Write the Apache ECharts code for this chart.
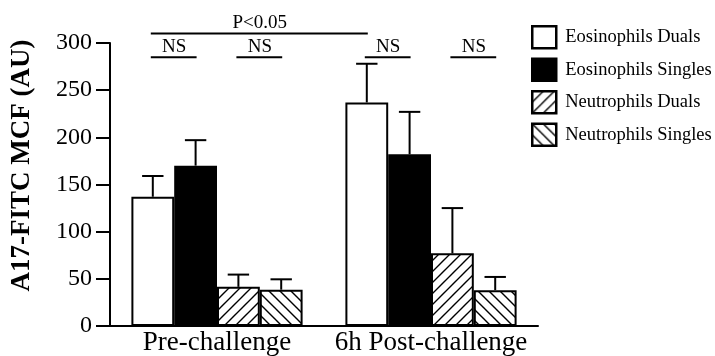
<!DOCTYPE html>
<html><head><meta charset="utf-8">
<script src="https://cdn.jsdelivr.net/npm/echarts@6/dist/echarts.min.js"></script>
<style>html,body{margin:0;padding:0;background:#fff}#c{width:715px;height:356px}</style>
</head><body><div id="c"></div>
<script>
const categories = ['Pre-challenge', '6h Post-challenge'];
const seriesNames = ['Eosinophils Duals', 'Eosinophils Singles', 'Neutrophils Duals', 'Neutrophils Singles'];
const eosDuals = [137, 237];
const eosSingles = [170, 182];
const neuDuals = [41.5, 77];
const neuSingles = [38.5, 38];
const eosDualsErr = [22, 41];
const eosSinglesErr = [27, 45];
const neuDualsErr = [13, 48];
const neuSinglesErr = [11, 14];
const yTicks = [0, 50, 100, 150, 200, 250, 300];
// brackets: [catFrom, barFrom, catTo, barTo, yValue, label]
const brackets = [
  [0, 0, 1, 0, 310, 'P<0.05'],
  [0, 0, 0, 1, 285, 'NS'],
  [0, 2, 0, 3, 285, 'NS'],
  [1, 0, 1, 1, 285, 'NS'],
  [1, 2, 1, 3, 285, 'NS']
];

const values = [eosDuals, eosSingles, neuDuals, neuSingles];
const errs = [eosDualsErr, eosSinglesErr, neuDualsErr, neuSinglesErr];
const FONT = 'Liberation Serif';
const CAT_GAP = 0.2;

function hatch(forward) {
  const s = 11;
  const c = document.createElement('canvas');
  c.width = s; c.height = s;
  const g = c.getContext('2d');
  g.fillStyle = '#fff'; g.fillRect(0, 0, s, s);
  g.strokeStyle = '#000'; g.lineWidth = 1.4;
  g.beginPath();
  if (forward) {
    g.moveTo(-1, s + 1); g.lineTo(s + 1, -1);
    g.moveTo(-1, 1); g.lineTo(1, -1);
    g.moveTo(s - 1, s + 1); g.lineTo(s + 1, s - 1);
  } else {
    g.moveTo(-1, -1); g.lineTo(s + 1, s + 1);
    g.moveTo(s - 1, -1); g.lineTo(s + 1, 1);
    g.moveTo(-1, s - 1); g.lineTo(1, s + 1);
  }
  g.stroke();
  return c;
}
const fills = ['#fff', '#000', { image: hatch(true), repeat: 'repeat' }, { image: hatch(false), repeat: 'repeat' }];

function barX(api, cat, idx) {
  const center = api.coord([cat, 0])[0];
  const band = api.size([1, 0])[0];
  const bw = band * (1 - CAT_GAP) / 4;
  return { x: center + (idx - 1.5) * bw, bw: bw };
}

const barSeries = seriesNames.map((n, i) => ({
  name: n, type: 'bar', data: values[i],
  barGap: '0%', barCategoryGap: (CAT_GAP * 100) + '%',
  itemStyle: { color: fills[i], borderColor: '#000', borderWidth: 2 },
  z: 3
}));

const errSeries = seriesNames.map((n, i) => ({
  type: 'custom', name: n + ' err',
  data: values[i].map((v, k) => [k, v, errs[i][k]]),
  z: 2,
  renderItem: function (params, api) {
    const cat = api.value(0), v = api.value(1), e = api.value(2);
    const b = barX(api, cat, i);
    const top = api.coord([cat, v + e])[1];
    const base = api.coord([cat, v])[1];
    const cap = b.bw * 0.25;
    return {
      type: 'group', children: [
        { type: 'line', shape: { x1: b.x, y1: base, x2: b.x, y2: top }, style: { stroke: '#000', lineWidth: 2 } },
        { type: 'line', shape: { x1: b.x - cap, y1: top, x2: b.x + cap, y2: top }, style: { stroke: '#000', lineWidth: 2 } }
      ]
    };
  }
}));

const bracketSeries = {
  type: 'custom', name: 'brackets', clip: false, silent: true,
  data: brackets,
  renderItem: function (params, api) {
    const d = brackets[params.dataIndex];
    const a = barX(api, d[0], d[1]);
    const b = barX(api, d[2], d[3]);
    const y = api.coord([0, d[4]])[1];
    return {
      type: 'group', children: [
        { type: 'line', shape: { x1: a.x - 2, y1: y, x2: b.x + 1, y2: y }, style: { stroke: '#000', lineWidth: 2 } },
        { type: 'text', style: { text: d[5], x: (a.x + b.x) / 2, y: y - 1, align: 'center', verticalAlign: 'bottom', font: '19px "Liberation Serif"', fill: '#000' } }
      ]
    };
  }
};

const chart = echarts.init(document.getElementById('c'), null, { renderer: 'canvas' });
chart.setOption({
  animation: false,
  backgroundColor: '#fff',
  grid: { left: 110, right: 177, top: 43, bottom: 28 },
  legend: {
    data: seriesNames, orient: 'vertical', left: 531, top: 25, padding: 0,
    itemWidth: 24, itemHeight: 22, itemGap: 8, icon: 'rect',
    itemStyle: { borderWidth: 2.5, borderColor: '#000' },
    textStyle: { fontFamily: FONT, fontSize: 18.5, color: '#000', padding: [0, 0, 0, 4] },
    selectedMode: false
  },
  xAxis: {
    type: 'category', data: categories,
    axisLine: { lineStyle: { color: '#000', width: 2 } },
    axisTick: { show: false },
    axisLabel: { fontFamily: FONT, fontSize: 27, color: '#000', margin: 3, interval: 0 }
  },
  yAxis: {
    type: 'value', min: yTicks[0], max: yTicks[yTicks.length - 1], interval: 50,
    name: 'A17-FITC MCF (AU)', nameLocation: 'middle', nameGap: 74,
    nameTextStyle: { fontFamily: FONT, fontSize: 27, fontWeight: 'bold', color: '#000', padding: [0, 0, 0, 38] },
    axisLine: { show: true, lineStyle: { color: '#000', width: 2 } },
    axisTick: { show: true, length: 14, lineStyle: { color: '#000', width: 2 } },
    axisLabel: { fontFamily: FONT, fontSize: 24, color: '#000', margin: 18 },
    splitLine: { show: false }
  },
  series: [...barSeries, ...errSeries, bracketSeries]
});
</script></body></html>
